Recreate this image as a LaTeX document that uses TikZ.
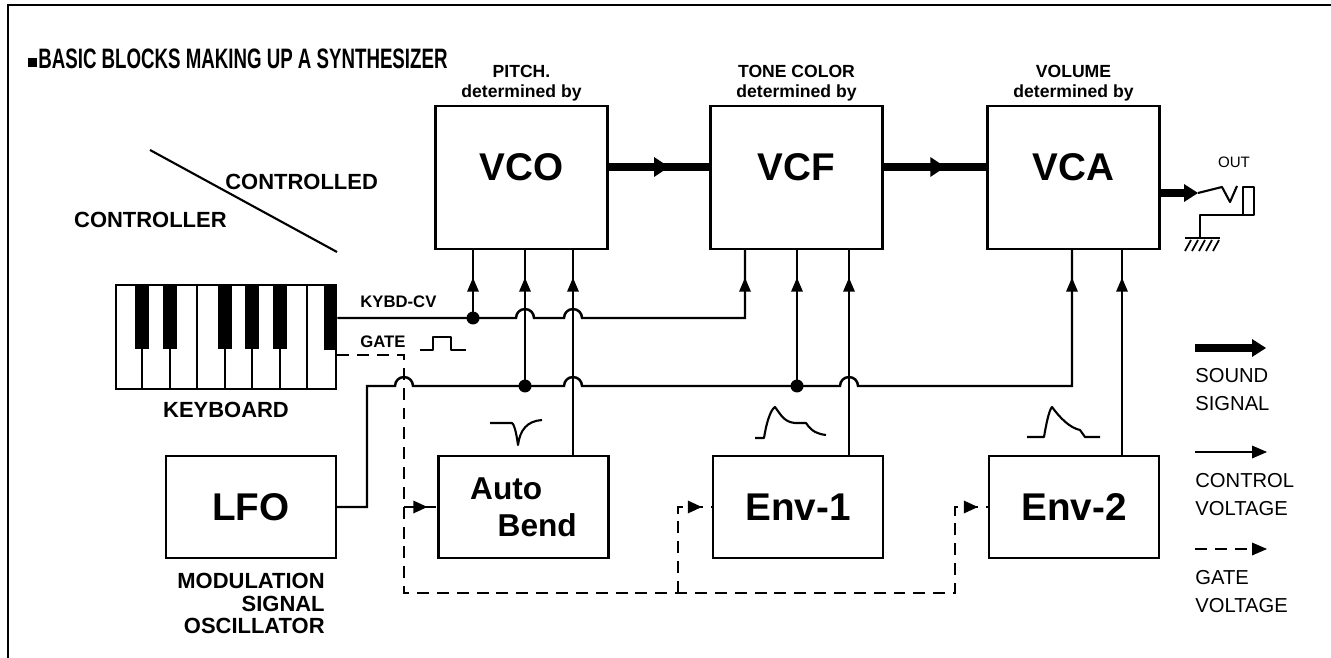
\documentclass[tikz,border=0pt]{standalone}
\usepackage{fontspec}
\setmainfont{Liberation Sans}
\newfontfamily\condfont[FakeStretch=0.665]{Liberation Sans}
\usetikzlibrary{arrows.meta,decorations.markings,positioning}

\tikzset{
  wire/.style={line width=1.4pt},
  cv/.style={wire, postaction={decorate}, decoration={markings,
      mark=at position -0.55cm with {\arrow{Triangle[length=0.28cm,width=0.24cm,line width=0pt]}}}},
  gate/.style={wire, dash pattern=on 6.8pt off 4.5pt},
  gatein/.style={gate, postaction={decorate}, decoration={markings,
      mark=at position -0.2cm with {\arrow{Triangle[length=0.28cm,width=0.26cm,line width=0pt]}}}},
  snd/.style={line width=4.5pt},
  sndmid/.style={snd, postaction={decorate}, decoration={markings,
      mark=at position 0.6 with {\arrow{Triangle[length=0.3cm,width=0.4cm,line width=0pt]}}}},
  wave/.style={line width=1.2pt, line join=round},
  upper/.style={draw, line width=1.4pt, minimum width=3.44cm, minimum height=2.86cm, inner sep=0pt,
      font=\bfseries\fontsize{22}{24}\selectfont, text height=0.556cm, text depth=0.42cm},
  lower/.style={draw, line width=1.4pt, minimum width=3.4cm, minimum height=2.04cm, inner sep=0pt,
      font=\bfseries\fontsize{22}{24}\selectfont},
  hdr/.style={align=center, inner sep=0pt, font=\bfseries\fontsize{10}{11.3}\selectfont},
  lbl/.style={inner sep=0pt, font=\bfseries\fontsize{12.5}{12.8}\selectfont},
  sig/.style={inner sep=0pt, font=\bfseries\fontsize{9.5}{11}\selectfont},
  key/.style={anchor=north west, align=left, inner sep=0pt, font=\fontsize{11.5}{16.2}\selectfont}
}

\begin{document}
\begin{tikzpicture}[x=0.02cm, y=-0.02cm]
\useasboundingbox (0,0) rectangle (1331,658);
% frame
\draw[line width=1pt] (8,658) -- (8,5) -- (1331,5);

% title
\node[anchor=base west, inner sep=0pt, font=\condfont\bfseries\fontsize{16}{18}\selectfont] (title) at (28,69)
  {\rule[0.03cm]{0.17cm}{0.19cm}\hspace{0.03cm}BASIC BLOCKS MAKING UP A SYNTHESIZER};

% upper row
\node[upper] (vco) at (521.5,177.5) {VCO};
\node[upper] (vcf) at (796.5,177.5) {VCF};
\node[upper] (vca) at (1073.5,177.5) {VCA};
\node[hdr, above=0.06cm of vco] (pitch) {PITCH.\\determined by};
\node[hdr, above=0.06cm of vcf] (tone) {TONE COLOR\\determined by};
\node[hdr, above=0.06cm of vca] (volume) {VOLUME\\determined by};

% lower row
\node[lower] (lfo) at (251,507) {LFO};
\node[lower, align=left, font=\bfseries\fontsize{18}{21}\selectfont] (ab) at (523.5,507) {Auto\\\hspace*{0.55cm}Bend};
\node[lower] (env1) at (798,507) {Env-1};
\node[lower] (env2) at (1074,507) {Env-2};

% keyboard
\node[draw, line width=1.6pt, minimum width=4.4cm, minimum height=2.08cm, inner sep=0pt] (kbd) at (226,337) {};
\foreach \k in {1,...,7}
  \draw[line width=1.1pt] ([xshift=\k*0.55cm]kbd.north west) -- ([xshift=\k*0.55cm]kbd.south west);
\foreach \k in {1,2,4,5,6}
  \fill ([xshift=\k*0.55cm-0.14cm]kbd.north west) rectangle ++(0.28cm,-1.3cm);
\fill ([xshift=4.18cm]kbd.north west) rectangle (kbd.east |- 0,350);
\node[lbl, below=0.22cm of kbd] (kbdlbl) {KEYBOARD};

% controller / controlled
\draw[line width=1.2pt] (150,150) -- (337,252);
\node[lbl, anchor=base west] (ctrld) at (225,190) {CONTROLLED};
\node[lbl, anchor=base east] (ctrlr) at (227,228) {CONTROLLER};

\node[lbl, anchor=north east, align=right] (modlbl) at (325,573) {MODULATION\\SIGNAL\\OSCILLATOR};

% signal labels
\node[sig, anchor=base west] (kcvlbl) at (360,308) {KYBD-CV};
\node[sig, anchor=base west] (gatelbl) at (360,347) {GATE};
\draw[wave] (420,350) -- (433,350) -- (433,337) -- (451,337) -- (451,350) -- (466,350);

% sound path
\draw[sndmid] ([yshift=0.21cm]vco.east) -- ([yshift=0.21cm]vcf.west);
\draw[sndmid] ([yshift=0.21cm]vcf.east) -- ([yshift=0.21cm]vca.west);
\coordinate (jack) at (1198,193);
\draw[snd, -{Triangle[length=0.28cm,width=0.36cm,line width=0pt]}] ([yshift=-0.31cm]vca.east) -- (jack);

% output jack
\draw[wave] (jack) -- (1222,187) -- (1230,202) -- (1237,186);
\draw[wave] (1243,187) rectangle (1254,215);
\draw[wave] (1254,215) -- (1200,215) -- (1200,238);
\draw[wave] (1185,238) -- (1220,238);
\foreach \h in {1191,1198,1205,1212,1219}
  \draw[line width=1pt] (\h,240) -- ++(-6,11);
\node[inner sep=0pt, font=\fontsize{8.6}{10}\selectfont, anchor=base] (outlbl) at (1234,168) {OUT};

% keyboard CV
\coordinate (kcv1) at (473,318);
\draw[cv] (kbd.east |- 0,318) -- (516,318) arc[start angle=180,end angle=0,radius=0.18cm]
  -- (564,318) arc[start angle=180,end angle=0,radius=0.18cm] -- (745,318) -- (745,318 |- vcf.south);
\draw[cv] (kcv1) -- (kcv1 |- vco.south);
\fill (kcv1) circle[radius=0.13cm];

% LFO
\coordinate (lfo1) at (525,386);
\coordinate (lfo2) at (797,386);
\draw[cv] (lfo.east) -- (367,507) -- (367,386) -- (395,386) arc[start angle=180,end angle=0,radius=0.18cm]
  -- (564,386) arc[start angle=180,end angle=0,radius=0.18cm]
  -- (840,386) arc[start angle=180,end angle=0,radius=0.18cm] -- (1072,386) -- (1072,386 |- vca.south);
\draw[cv] (lfo1) -- (lfo1 |- vco.south);
\draw[cv] (lfo2) -- (lfo2 |- vcf.south);
\fill (lfo1) circle[radius=0.13cm];
\fill (lfo2) circle[radius=0.13cm];

% envelope outputs
\draw[cv] (573,0 |- ab.north) -- (573,0 |- vco.south);
\draw[cv] (849,0 |- env1.north) -- (849,0 |- vcf.south);
\draw[cv] (1122,0 |- env2.north) -- (1122,0 |- vca.south);

% gate
\draw[gatein] (kbd.east |- 0,355) -- (404,355) -- (404,593) -- (955,593) -- (955,507) -- (env2.west);
\draw[gatein] (404,507) -- (ab.west);
\draw[gatein] (678,593) -- (678,507) -- (env1.west);

% waveforms
\draw[wave] (490,423) -- (512,423) .. controls (515,425) and (517,438) .. (518,445)
  .. controls (520,430) and (527,421) .. (542,420);
\draw[wave] (755,438) -- (764,438) .. controls (766,425) and (770,410) .. (775,407)
  .. controls (781,415) and (784,422) .. (795,423) -- (806,423) .. controls (812,432) and (818,434) .. (826,435);
\draw[wave] (1027,437) -- (1044,437) .. controls (1046,425) and (1049,410) .. (1052,407)
  .. controls (1060,418) and (1070,428) .. (1080,430) -- (1085,437) -- (1100,437);

% legend
\coordinate (ks) at (1195,348);
\coordinate (kse) at (1266,348);
\draw[snd, -{Triangle[length=0.28cm,width=0.36cm,line width=0pt]}] (ks) -- (kse);
\node[key] (ksl) at (1195,368) {SOUND\\SIGNAL};
\coordinate (kc) at (1195,452);
\coordinate (kce) at (1267,452);
\draw[wire, -{Triangle[length=0.3cm,width=0.26cm,line width=0pt]}] (kc) -- (kce);
\node[key] (kcl) at (1195,473) {CONTROL\\VOLTAGE};
\coordinate (kg) at (1195,549);
\coordinate (kge) at (1267,549);
\draw[gate, -{Triangle[length=0.3cm,width=0.26cm,line width=0pt]}] (kg) -- (kge);
\node[key] (kgl) at (1195,570) {GATE\\VOLTAGE};
\end{tikzpicture}
\end{document}
